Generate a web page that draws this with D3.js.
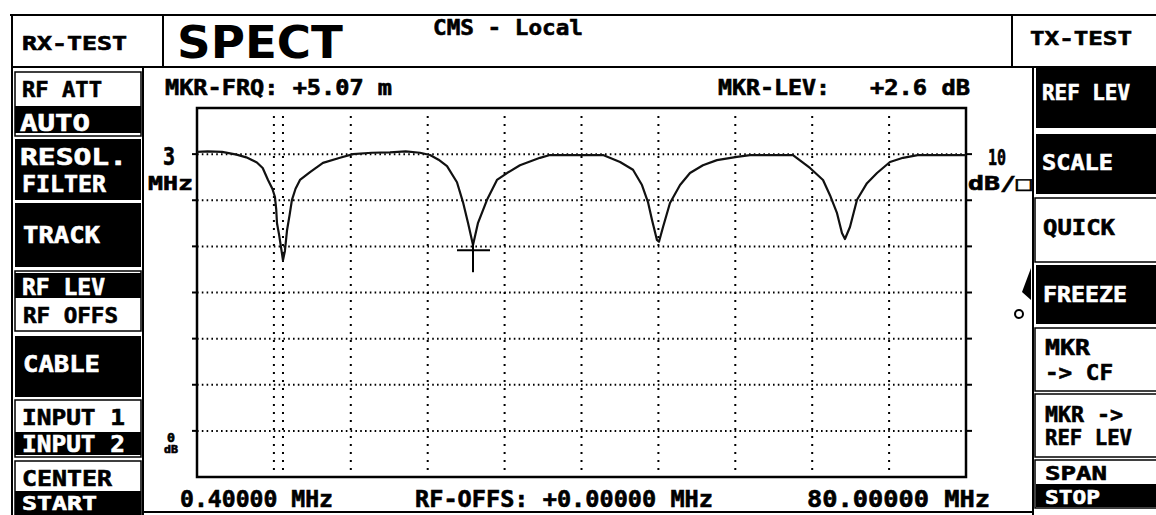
<!DOCTYPE html>
<html>
<head>
<meta charset="utf-8">
<script src="https://cdn.jsdelivr.net/npm/d3@7"></script>
<style>
  body { margin: 0; background: #fff; }
  text { font-family: "DejaVu Sans Mono", monospace; font-weight: bold; }
</style>
</head>
<body>
<div id="screen"></div>
<script>
// trace (MHz / dB)
var traceFreq = [0.4, 1.5, 3.0, 4.5, 5.5, 6.6, 7.2, 7.75, 8.2, 8.47, 8.6, 8.68, 8.9, 9.09, 9.3, 9.5, 9.72, 10.0, 10.23, 10.6,
  11.06, 12.1, 13.44, 15.2, 16.55, 18.5, 20.38, 22.0, 23.48, 24.52, 25.4, 26.28, 27.31, 27.93, 28.45, 28.97, 29.49, 30.42,
  31.45, 32.49, 33.83, 35.9, 36.94, 40.0, 42.43, 44.19, 45.53, 46.46, 47.08, 47.5, 48.01, 48.22, 48.64, 49.36, 50.4, 51.43,
  52.77, 54.22, 56.29, 57.64, 59.71, 62.09, 63.85, 65.2, 65.92, 66.65, 67.16, 67.47, 67.99, 68.72, 69.75, 70.79, 72.13,
  73.48, 75.0, 80.0];
var traceLevel = [60.5, 60.6, 60.5, 59.9, 59.3, 58.2, 57.0, 54.4, 52.5, 50.7, 48.0, 45.0, 42.5, 39.9, 37.0, 39.0, 43.5, 47.0, 50.1, 52.5,
  54.4, 56.1, 58.1, 59.2, 60.0, 60.3, 60.4, 60.6, 60.3, 59.8, 58.8, 57.4, 53.9, 49.6, 45.1, 40.3, 45.1, 50.1,
  54.4, 55.9, 57.6, 59.2, 59.8, 59.8, 59.8, 58.3, 56.6, 53.3, 49.6, 45.7, 41.4, 41.0, 44.2, 49.4, 53.3, 55.9,
  57.6, 58.7, 59.4, 59.8, 59.8, 59.8, 57.0, 54.4, 51.1, 47.2, 42.9, 41.6, 44.2, 50.1, 53.7, 55.9, 58.3,
  59.2, 59.8, 59.8];

var freqStart = 0.4, freqStop = 80;
var levelBottom = -10, levelTop = 70;
var xGrid = [8.36, 16.32, 24.28, 32.24, 40.2, 48.16, 56.12, 64.08, 72.04];
var yGrid = [60, 50, 40, 30, 20, 10, 0];
var markerLineFreq = 9.3;
var markerFreq = 28.97, markerLevel = 39.6;

var W = 1156, H = 515;
var plot = { left: 197, right: 966, top: 108, bottom: 477 };

var svg = d3.select("#screen").append("svg")
  .attr("width", W)
  .attr("height", H);

svg.append("rect").attr("width", W).attr("height", H).attr("fill", "#fff");

var x = d3.scaleLinear().domain([freqStart, freqStop]).range([plot.left, plot.right]);
var y = d3.scaleLinear().domain([levelBottom, levelTop]).range([plot.bottom, plot.top]);

function line(x1, y1, x2, y2, w) {
  svg.append("line")
    .attr("x1", x1).attr("y1", y1).attr("x2", x2).attr("y2", y2)
    .attr("stroke", "#000").attr("stroke-width", w || 2);
}

// heavy screen font: bold mono plus a thin outline in the same colour
function label(px, py, s, size, w, fill) {
  var t = svg.append("text")
    .attr("x", px).attr("y", py)
    .attr("font-size", size)
    .attr("fill", fill || "#000")
    .attr("stroke", fill || "#000")
    .attr("stroke-width", 0.6)
    .text(s);
  if (w) t.attr("textLength", w).attr("lengthAdjust", "spacingAndGlyphs");
  return t;
}

function block(x1, y1, x2, y2) {
  svg.append("rect")
    .attr("x", x1).attr("y", y1)
    .attr("width", x2 - x1).attr("height", y2 - y1)
    .attr("fill", "#000");
}

function box(x1, y1, x2, y2) {
  svg.append("rect")
    .attr("x", x1).attr("y", y1)
    .attr("width", x2 - x1).attr("height", y2 - y1)
    .attr("fill", "none").attr("stroke", "#000").attr("stroke-width", 1.5);
}

// frame of the screen
line(10, 15, W, 15, 2);
line(12, 15, 12, H, 2);
line(12, 67, W, 67, 2);
line(163, 15, 163, 67, 2);
line(1012, 15, 1012, 67, 2);
line(143, 67, 143, H, 2);
line(1033, 67, 1033, H, 2);
line(143, 512, 1033, 512, 2);

// header
label(22, 50, "RX-TEST", 19, 105);
svg.append("text")
  .attr("x", 177).attr("y", 58)
  .attr("font-size", 45)
  .attr("textLength", 166).attr("lengthAdjust", "spacingAndGlyphs")
  .style("font-family", "'DejaVu Sans', sans-serif")
  .text("SPECT");
label(433, 35, "CMS - Local", 21, 150);
label(1030, 45, "TX-TEST", 20, 102);

// marker readout
label(165, 95, "MKR-FRQ: +5.07 m", 21, 227);
label(718, 95, "MKR-LEV:", 21, 112);
label(870, 95, "+2.6 dB", 21, 100);

// grid
var grid = svg.append("g");
grid.selectAll(".hgrid").data(yGrid).enter().append("line")
  .attr("x1", plot.left).attr("x2", plot.right)
  .attr("y1", function(d) { return y(d); })
  .attr("y2", function(d) { return y(d); })
  .attr("stroke", "#000").attr("stroke-width", 2)
  .attr("stroke-dasharray", "1.6,3.2");
grid.selectAll(".vgrid").data(xGrid.concat([markerLineFreq])).enter().append("line")
  .attr("x1", function(d) { return x(d); })
  .attr("x2", function(d) { return x(d); })
  .attr("y1", plot.top + 8).attr("y2", plot.bottom - 2)
  .attr("stroke", "#000").attr("stroke-width", 2)
  .attr("stroke-dasharray", "2,6");

// ticks on the left and right border
grid.selectAll(".ltick").data(yGrid).enter().append("line")
  .attr("x1", plot.left - 5).attr("x2", plot.left)
  .attr("y1", function(d) { return y(d); })
  .attr("y2", function(d) { return y(d); })
  .attr("stroke", "#000").attr("stroke-width", 2);
grid.selectAll(".rtick").data(yGrid).enter().append("line")
  .attr("x1", plot.right).attr("x2", plot.right + 6)
  .attr("y1", function(d) { return y(d); })
  .attr("y2", function(d) { return y(d); })
  .attr("stroke", "#000").attr("stroke-width", 2);

// plot border
svg.append("rect")
  .attr("x", plot.left).attr("y", plot.top)
  .attr("width", plot.right - plot.left).attr("height", plot.bottom - plot.top)
  .attr("fill", "none").attr("stroke", "#000").attr("stroke-width", 2.5);

// trace
var pts = traceFreq.map(function(f, i) { return [f, traceLevel[i]]; });
svg.append("path")
  .datum(pts)
  .attr("d", d3.line()
    .x(function(d) { return x(d[0]); })
    .y(function(d) { return y(d[1]); }))
  .attr("fill", "none")
  .attr("stroke", "#111")
  .attr("stroke-width", 2.2)
  .attr("stroke-linejoin", "round");

// marker cross
var mx = x(markerFreq), my = y(markerLevel);
line(mx - 16, my + 2, mx + 17, my + 2, 2);
line(mx, my - 6, mx, my + 24, 2);

// scale labels
label(163, 165, "3", 24, 12);
label(148, 190, "MHz", 19, 45);
label(988, 165, "10", 22, 18);
label(968, 190, "dB/\u25A1", 19, 64);
label(167, 442, "0", 12, 8);
label(164, 453, "dB", 10, 14);

// frequency line at the bottom
label(180, 507, "0.40000 MHz", 23, 153);
label(415, 507, "RF-OFFS: +0.00000 MHz", 23, 298);
label(807, 507, "80.00000 MHz", 23, 183);

// left softkeys
box(15, 72, 141, 136);
label(22, 97, "RF ATT", 22, 80);
block(15, 106, 141, 133);
label(20, 131, "AUTO", 23, 70, "#fff");

block(15, 139, 141, 200);
label(20, 165, "RESOL.", 23, 107, "#fff");
label(22, 192, "FILTER", 23, 84, "#fff");

block(15, 203, 141, 267);
label(23, 243, "TRACK", 23, 77, "#fff");

box(15, 271, 141, 331);
block(15, 273, 141, 298);
label(22, 295, "RF LEV", 23, 83, "#fff");
label(23, 323, "RF OFFS", 22, 95);

block(15, 336, 141, 397);
label(23, 372, "CABLE", 23, 77, "#fff");

box(15, 400, 141, 457);
label(22, 425, "INPUT 1", 22, 103);
block(15, 432, 141, 455);
label(22, 452, "INPUT 2", 23, 103, "#fff");

box(15, 461, 141, 516);
label(22, 486, "CENTER", 22, 90);
block(15, 491, 141, 515);
label(22, 510, "START", 20, 75, "#fff");

// right softkeys
block(1036, 67, W, 128);
label(1042, 100, "REF LEV", 22, 88, "#fff");

block(1036, 134, W, 194);
label(1042, 170, "SCALE", 22, 71, "#fff");

box(1035, 198, W + 2, 262);
label(1043, 235, "QUICK", 22, 72);

block(1036, 265, W, 324);
label(1043, 302, "FREEZE", 22, 84, "#fff");

box(1035, 328, W + 2, 391);
label(1045, 355, "MKR", 22, 45);
label(1045, 380, "-> CF", 22, 68);

box(1035, 394, W + 2, 457);
label(1045, 422, "MKR ->", 22, 78);
label(1045, 445, "REF LEV", 22, 87);

box(1035, 460, W + 2, 508);
label(1045, 480, "SPAN", 20, 62);
block(1036, 484, W, 507);
label(1045, 504, "STOP", 20, 55, "#fff");

// freeze indicator
svg.append("path")
  .attr("d", "M1031,268 L1022,292 L1031,300 Z")
  .attr("fill", "#000");
svg.append("circle")
  .attr("cx", 1019).attr("cy", 314).attr("r", 4)
  .attr("fill", "none").attr("stroke", "#000").attr("stroke-width", 2);
</script>
</body>
</html>
